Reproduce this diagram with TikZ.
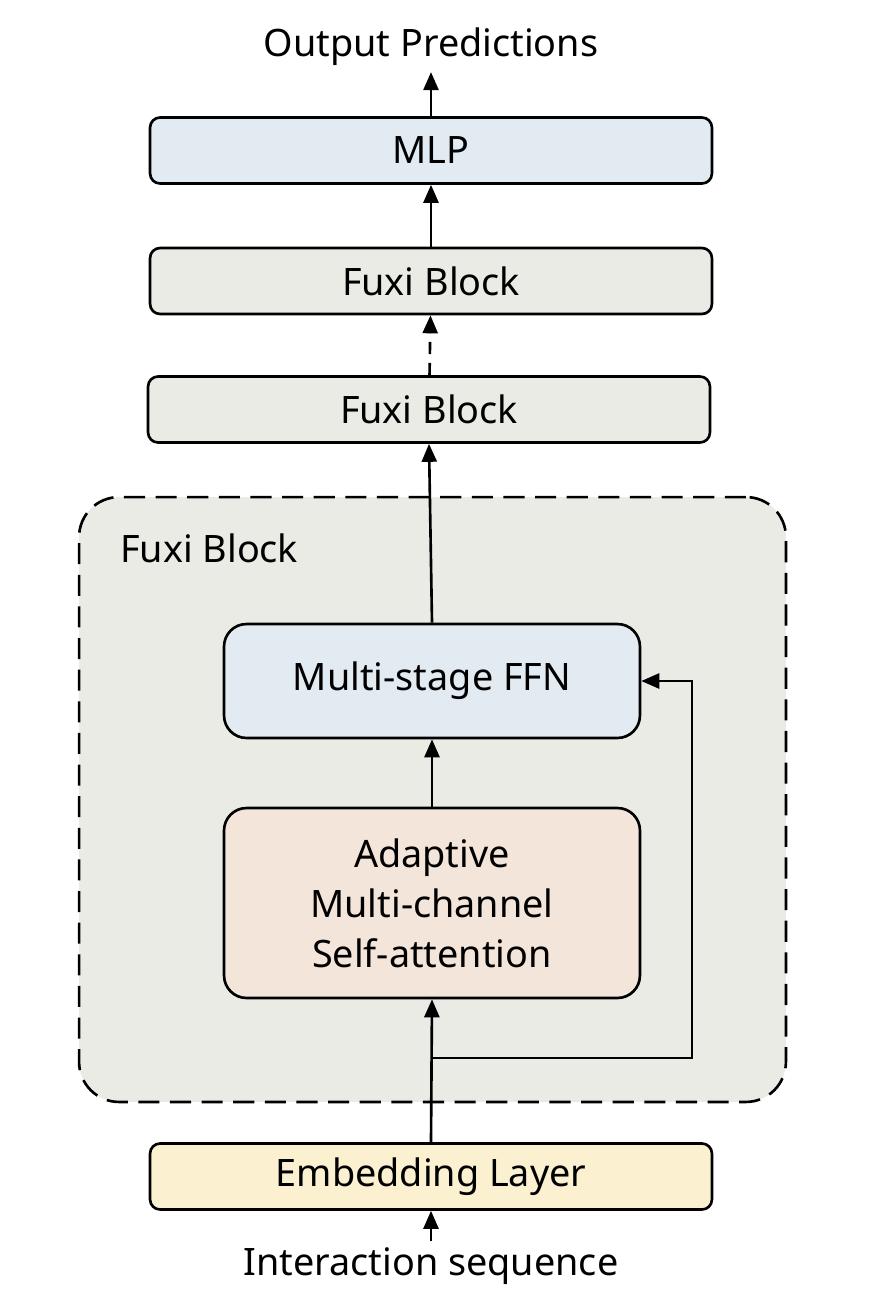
\documentclass[tikz,border=0pt]{standalone}
\usepackage{fontspec}
\setmainfont{Noto Sans}
\usetikzlibrary{positioning,arrows.meta}

\definecolor{mlpblue}{HTML}{E2EAF2}
\definecolor{fuxigray}{HTML}{E9EBE4}
\definecolor{attnpeach}{HTML}{F4E5DA}
\definecolor{embyellow}{HTML}{FBF1D0}

\tikzset{
  layerbox/.style={draw, line width=1.5pt, rounded corners=0.2cm,
                   minimum width=11.24cm, minimum height=1.32cm},
  innerbox/.style={draw, line width=1.5pt, rounded corners=0.45cm,
                   minimum width=8.32cm, align=center},
  flow/.style={line width=1.5pt, -{Triangle[length=0.36cm,width=0.3cm]}}
}

\begin{document}
\begin{tikzpicture}[x=0.02cm, y=-0.02cm, font=\fontsize{21.5}{28.5}\selectfont]
    \useasboundingbox (0,0) rectangle (884,1306);

    % outer Fuxi block
    \node (outer) [draw, dash pattern=on 12pt off 6pt, line width=1.5pt,
                   fill=fuxigray, rounded corners=0.8cm,
                   minimum width=14.14cm, minimum height=12.1cm] at (432.5,799.5) {};
    \node (outerlbl) [anchor=west] at (114,548) {Fuxi Block};

    \node (ffn)   [innerbox, fill=mlpblue, minimum height=2.28cm] at (432,681) {Multi-stage FFN};
    \node (attn)  [innerbox, fill=attnpeach, minimum height=3.8cm] at (432,903)
                  {Adaptive\\Multi-channel\\Self-attention};

    \node (emb)   [layerbox, fill=embyellow] at (431,1176.5) {Embedding Layer};
    \node (fuxib) [layerbox, fill=fuxigray] at (429,409.5) {Fuxi Block};
    \node (fuxia) [layerbox, fill=fuxigray] at (431,281) {Fuxi Block};
    \node (mlp)   [layerbox, fill=mlpblue] at (431,150.5) {MLP};

    \node (out)   at (431,47) {Output Predictions};
    \node (inp)   at (431,1266) {Interaction sequence};

    \coordinate (split) at (433,1058);
    \coordinate (turn) at (692,1058);

    \draw[flow] (inp) -- (emb);
    \draw[flow] (emb.north) -- (attn.south);
    \draw[flow] (split) -- (turn) |- (ffn.east);
    \draw[flow] (attn) -- (ffn);
    \draw[flow] (ffn.north) -- (fuxib.south);
    \draw[flow, dash pattern=on 7pt off 5pt] (fuxib) -- (fuxia);
    \draw[flow] (fuxia) -- (mlp);
    \draw[flow] (mlp) -- (out);
  \end{tikzpicture}
\end{document}
